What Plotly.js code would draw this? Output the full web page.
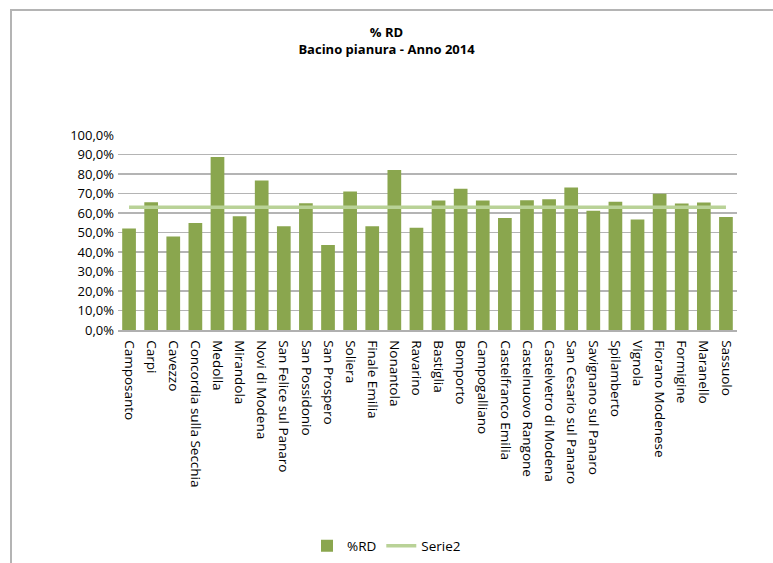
<!DOCTYPE html>
<html>
<head>
<meta charset="utf-8">
<script src="https://cdn.plot.ly/plotly-3.0.1.min.js"></script>
<style>
html,body{margin:0;padding:0;background:#fff;}
#wrap{position:relative;width:773px;height:563px;}
#chart{width:773px;height:563px;}
#frame{position:absolute;left:10px;top:9px;width:763px;height:554px;border-left:2px solid #b4b4b4;border-top:2px solid #b4b4b4;pointer-events:none;}
</style>
</head>
<body>
<div id="wrap"><div id="chart"></div><div id="frame"></div></div>
<script>
const categories = ["Camposanto","Carpi","Cavezzo","Concordia sulla Secchia","Medolla","Mirandola","Novi di Modena","San Felice sul Panaro","San Possidonio","San Prospero","Soliera","Finale Emilia","Nonantola","Ravarino","Bastiglia","Bomporto","Campogalliano","Castelfranco Emilia","Castelnuovo Rangone","Castelvetro di Modena","San Cesario sul Panaro","Savignano sul Panaro","Spilamberto","Vignola","Fiorano Modenese","Formigine","Maranello","Sassuolo"];
const rdValues = [52.1,65.5,48.0,54.9,88.7,58.3,76.7,53.2,65.0,43.6,71.0,53.2,82.0,52.4,66.4,72.4,66.4,57.4,66.6,67.1,73.1,61.1,65.8,56.7,69.9,64.9,65.4,57.9];
const serie2Values = [63,63,63,63,63,63,63,63,63,63,63,63,63,63,63,63,63,63,63,63,63,63,63,63,63,63,63,63];
const yTicks = [0,10,20,30,40,50,60,70,80,90,100];
const yTickLabels = ["0,0%","10,0%","20,0%","30,0%","40,0%","50,0%","60,0%","70,0%","80,0%","90,0%","100,0%"];

const font = "Open Sans, Liberation Sans, sans-serif";
const data = [
  {type:'bar', name:'%RD', x:categories, y:rdValues, marker:{color:'#8aa64e'}},
  {type:'scatter', mode:'lines', name:'Serie2', x:categories, y:serie2Values, line:{color:'#b9d297', width:3.5}}
];
const layout = {
  width:773, height:563,
  margin:{l:118, r:36, t:135, b:233},
  paper_bgcolor:'#fff', plot_bgcolor:'#fff',
  separators:',.',
  font:{family:font, size:12, color:'#000'},
  title:{text:'<b>% RD</b><br><b>Bacino pianura - Anno 2014</b>', font:{family:font, size:13, color:'#000'}, x:0.5, xref:'container', xanchor:'center', y:1-37/563, yref:'container', yanchor:'top'},
  bargap:0.38,
  xaxis:{tickangle:90, showline:true, linecolor:'#b0b0b0', linewidth:1.5, ticks:'', ticklabelstandoff:6, showgrid:false, tickfont:{family:font, size:13.5}, automargin:false},
  yaxis:{range:[0,100], tickvals:yTicks, ticktext:yTickLabels, showgrid:true, gridcolor:'#b4b4b4', gridwidth:1.5, zeroline:false, ticks:'', ticklabelstandoff:3, tickfont:{family:font, size:13}, automargin:false},
  showlegend:true,
  legend:{orientation:'h', xref:'container', yref:'container', x:0.5, xanchor:'center', y:17/563, yanchor:'middle', font:{family:font, size:13.5}},
};
Plotly.newPlot('chart', data, layout, {displayModeBar:false, staticPlot:true});
</script>
</body>
</html>
